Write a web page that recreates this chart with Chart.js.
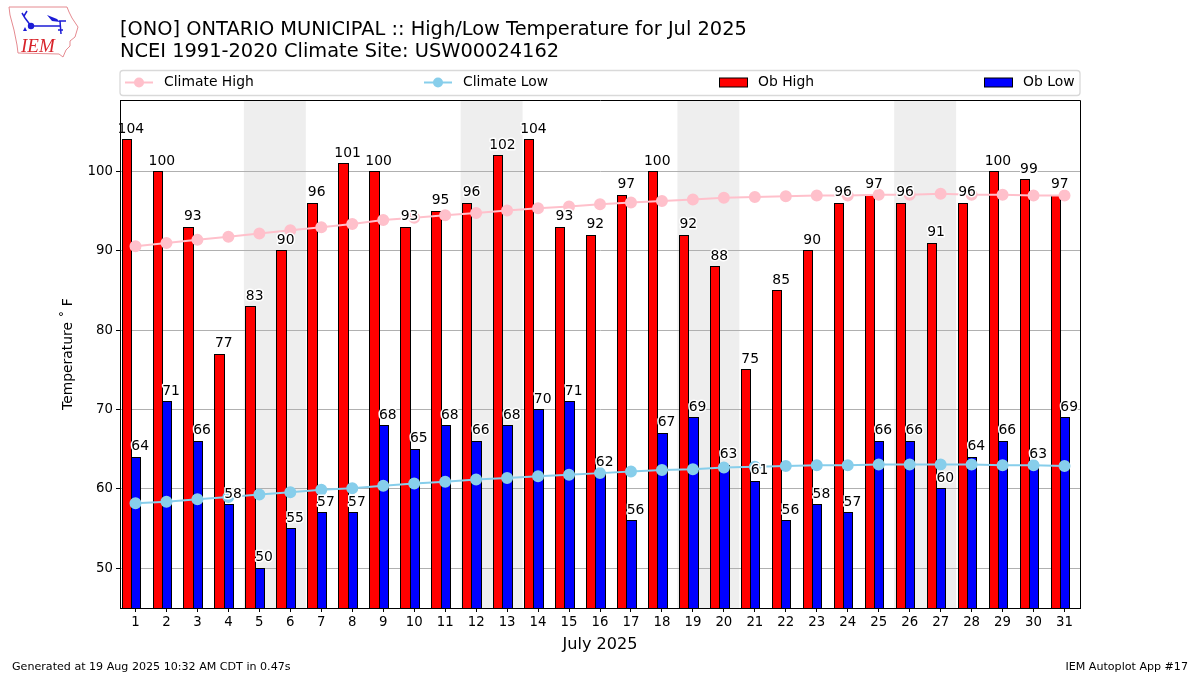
<!DOCTYPE html>
<html>
<head>
<meta charset="utf-8">
<title>ONO High/Low Temperature</title>
<script src="https://cdn.jsdelivr.net/npm/chart.js@4"></script>
<style>
    html, body { margin: 0; padding: 0; background: #fff; }
    #wrap { position: relative; width: 1200px; height: 675px; overflow: hidden; font-family: "DejaVu Sans", sans-serif; color: #000; }
    #tempChart { position: absolute; left: 0; top: 0; }
    #logo { position: absolute; left: 0; top: 0; }
    .foot { position: absolute; top: 660px; font-size: 11.1px; line-height: 13px; white-space: nowrap; }
</style>
</head>
<body>
<div id="wrap">
    <canvas id="tempChart" width="1200" height="675"></canvas>
    <svg id="logo" width="90" height="65" viewBox="0 0 90 65">
        <path d="M9 7 L67 7 L69 12 L72 18 L78 27 L75 37 L70 41 L70 46 L66 50 L63 57 L59 54 L18 53 L17 45 L14 30 L10 15 Z" fill="none" stroke="#e58a90" stroke-width="1"/>
        <path d="M22 13 L25 18 L31 26 L60 26 M27 11 L24 16 M59 21 L66 21 M60 21 L61 34 M58 30 L63 30" fill="none" stroke="#1c1cd6" stroke-width="1.5"/>
        <circle cx="31" cy="26" r="3.2" fill="#1c1cd6"/>
        <path d="M47 15 L57 19 L60 22 L52 21 Z M25 27 l2 4 l-4 0 Z" fill="#1c1cd6"/>
        <text x="21" y="52" font-family="Liberation Serif" font-style="italic" font-size="19" fill="#d8232a">IEM</text>
    </svg>
    <div class="foot" style="left:12px">Generated at 19 Aug 2025 10:32 AM CDT in 0.47s</div>
    <div class="foot" style="right:12px">IEM Autoplot App #17</div>
</div>
<script>
const days = ['1','2','3','4','5','6','7','8','9','10','11','12','13','14','15','16','17','18','19','20','21','22','23','24','25','26','27','28','29','30','31'];
const obHigh = [104,100,93,77,83,90,96,101,100,93,95,96,102,104,93,92,97,100,92,88,75,85,90,96,97,96,91,96,100,99,97];
const obLow = [64,71,66,58,50,55,57,57,68,65,68,66,68,70,71,62,56,67,69,63,61,56,58,57,66,66,60,64,66,63,69];
const climateHigh = [90.6,91.0,91.4,91.8,92.2,92.6,93.0,93.4,93.9,94.2,94.5,94.8,95.1,95.4,95.6,95.9,96.1,96.3,96.5,96.7,96.8,96.9,97.0,97.0,97.1,97.1,97.2,97.1,97.1,97.0,97.0];
const climateLow = [58.2,58.4,58.7,59.0,59.3,59.6,59.9,60.1,60.4,60.7,60.9,61.2,61.4,61.6,61.8,62.0,62.2,62.4,62.5,62.7,62.8,62.9,63.0,63.0,63.1,63.1,63.1,63.1,63.0,63.0,62.9];
const weekends = [['5','6'],['12','13'],['19','20'],['26','27']];
const titleLines = ['[ONO] ONTARIO MUNICIPAL :: High/Low Temperature for Jul 2025', 'NCEI 1991-2020 Climate Site: USW00024162'];

const FONT = '"DejaVu Sans"';

// Snap bars to whole pixels so the black outlines stay crisp
const snapBars = {
    id: 'snapBars',
    afterDatasetsUpdate(chart) {
        chart.getSortedVisibleDatasetMetas().forEach(meta => {
            if (meta.type !== 'bar') return;
            meta.data.forEach(bar => {
                const l = Math.round(bar.x - bar.width / 2);
                const r = Math.round(bar.x + bar.width / 2) + 1;
                bar.x = (l + r) / 2;
                bar.width = r - l;
                bar.y = Math.floor(bar.y);
            });
        });
    }
};

// Weekend bands go under the grid lines
const weekendBands = {
    id: 'weekendBands',
    beforeDraw(chart) {
        const { ctx, chartArea: area, scales: { x } } = chart;
        const half = (x.getPixelForValue(1) - x.getPixelForValue(0)) / 2;
        ctx.save();
        ctx.fillStyle = '#eeeeee';
        weekends.forEach(([a, b]) => {
            const left = x.getPixelForValue(days.indexOf(a)) - half;
            const right = x.getPixelForValue(days.indexOf(b)) + half;
            ctx.fillRect(left, area.top, right - left, area.bottom - area.top);
        });
        ctx.restore();
    }
};

// Value labels with a white halo, on top of the lines
const barLabels = {
    id: 'barLabels',
    afterDatasetsDraw(chart) {
        const { ctx, scales: { x, y } } = chart;
        const step = x.getPixelForValue(1) - x.getPixelForValue(0);
        ctx.save();
        ctx.font = '13.9px ' + FONT;
        ctx.textAlign = 'center';
        ctx.textBaseline = 'alphabetic';
        ctx.lineJoin = 'round';
        ctx.lineWidth = 3;
        ctx.strokeStyle = '#fff';
        ctx.fillStyle = '#000';
        const put = (values, shift) => values.forEach((v, i) => {
            const px = x.getPixelForValue(i) + shift * step;
            const py = y.getPixelForValue(v) - 7;
            ctx.strokeText(String(v), px, py);
            ctx.fillText(String(v), px, py);
        });
        put(obHigh, -0.15);
        put(obLow, 0.15);
        // frame around the plot
        const a = chart.chartArea;
        const fx = Math.floor(a.left) + 0.5, fy = Math.floor(a.top) + 0.5;
        ctx.strokeStyle = '#000';
        ctx.lineWidth = 1;
        ctx.strokeRect(fx, fy, Math.round(a.right - fx), Math.round(a.bottom - fy));
        ctx.restore();
    }
};

// Four column legend in the gap between the title and the plot
const columnLegend = {
    id: 'columnLegend',
    afterDraw(chart) {
        const { ctx } = chart;
        const a = chart.chartArea;
        const top = 70.5, h = 25, mid = top + h / 2 - 0.5;
        ctx.save();
        ctx.strokeStyle = '#d9d9d9';
        ctx.lineWidth = 1.3;
        ctx.beginPath();
        ctx.roundRect(a.left, top, a.right - a.left, h, 3);
        ctx.stroke();
        ctx.font = '13.9px ' + FONT;
        ctx.textBaseline = 'middle';
        ctx.fillStyle = '#000';
        const keyX = [125, 424, 719, 984];
        const order = [2, 3, 0, 1];
        order.forEach((dsIndex, col) => {
            const ds = chart.data.datasets[dsIndex];
            const x0 = keyX[col];
            if (ds.type === 'line') {
                ctx.strokeStyle = ds.borderColor;
                ctx.lineWidth = 2;
                ctx.beginPath();
                ctx.moveTo(x0, mid);
                ctx.lineTo(x0 + 28, mid);
                ctx.stroke();
                ctx.fillStyle = ds.borderColor;
                ctx.beginPath();
                ctx.arc(x0 + 14, mid, 5, 0, Math.PI * 2);
                ctx.fill();
            } else {
                ctx.fillStyle = ds.backgroundColor;
                ctx.fillRect(x0 + 0.5, mid - 4.5, 28, 9);
                ctx.strokeStyle = '#000';
                ctx.lineWidth = 1;
                ctx.strokeRect(x0 + 0.5, mid - 4.5, 28, 9);
            }
            ctx.fillStyle = '#000';
            ctx.fillText(ds.label, x0 + 39, mid);
        });
        ctx.restore();
    }
};

new Chart(document.getElementById('tempChart').getContext('2d'), {
    data: {
        labels: days,
        datasets: [
            { type: 'bar', label: 'Ob High', data: obHigh, backgroundColor: '#ff0000', borderColor: '#000', borderWidth: 1, order: 3 },
            { type: 'bar', label: 'Ob Low', data: obLow, backgroundColor: '#0000ff', borderColor: '#000', borderWidth: 1, order: 3 },
            { type: 'line', label: 'Climate High', data: climateHigh, borderColor: '#ffc0cb', backgroundColor: '#ffc0cb', borderWidth: 2, pointRadius: 5, pointHoverRadius: 5, tension: 0, order: 1 },
            { type: 'line', label: 'Climate Low', data: climateLow, borderColor: '#87ceeb', backgroundColor: '#87ceeb', borderWidth: 2, pointRadius: 5, pointHoverRadius: 5, tension: 0, order: 1 },
            // empty third slot, keeps each bar pair left of centre like the original
            { type: 'bar', label: '', data: [], order: 3 }
        ]
    },
    options: {
        responsive: false,
        animation: false,
        devicePixelRatio: 1,
        layout: { padding: { top: 19, left: 60, right: 120, bottom: 21 } },
        datasets: { bar: { categoryPercentage: 0.9, barPercentage: 1 } },
        plugins: {
            legend: { display: false },
            tooltip: { enabled: false },
            title: {
                display: true,
                text: titleLines,
                align: 'start',
                fullSize: false,
                color: '#000',
                font: { family: FONT, size: 19.4, weight: 'normal', lineHeight: 1.14 },
                padding: { top: 0, bottom: 37 }
            }
        },
        scales: {
            x: {
                type: 'category',
                grid: { display: true, offset: false, drawOnChartArea: false, drawTicks: true, tickColor: '#000', tickLength: 4 },
                border: { color: '#000' },
                ticks: { color: '#000', font: { family: FONT, size: 13.3 }, maxRotation: 0, autoSkip: false, padding: 3 },
                title: { display: true, text: 'July 2025', color: '#000', font: { family: FONT, size: 16.1 }, padding: { top: 4, bottom: 0 } },
                afterFit(scale) { scale.height = 46; }
            },
            y: {
                min: 45,
                max: 109,
                afterBuildTicks(scale) { scale.ticks = scale.ticks.filter(t => t.value % 10 === 0); },
                grid: { color: '#b0b0b0', lineWidth: 1, tickColor: '#000', tickLength: 4 },
                border: { color: '#000' },
                ticks: { stepSize: 10, color: '#000', font: { family: FONT, size: 13.3 }, padding: 3 },
                title: { display: true, text: 'Temperature ˚ F', color: '#000', font: { family: FONT, size: 13.9 }, padding: { top: 0, bottom: 9 } },
                afterFit(scale) { scale.width = 60; }
            }
        }
    },
    plugins: [snapBars, weekendBands, barLabels, columnLegend]
});
</script>
</body>
</html>
